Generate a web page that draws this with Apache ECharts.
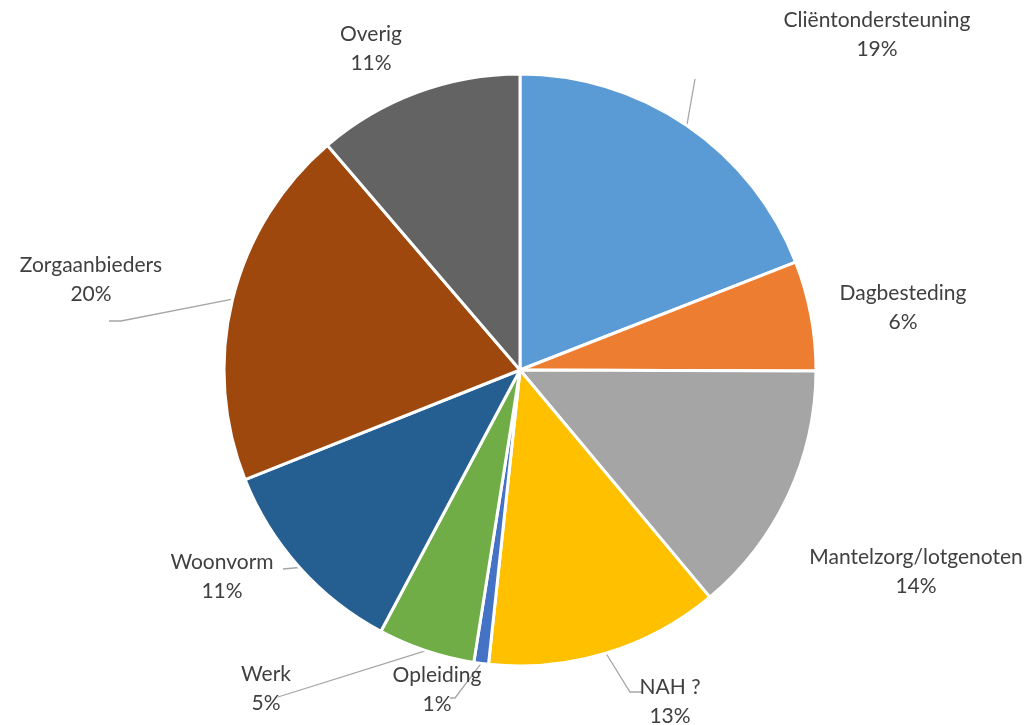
<!DOCTYPE html>
<html>
<head>
<meta charset="utf-8">
<script src="https://cdn.jsdelivr.net/npm/echarts@6/dist/echarts.min.js"></script>
<style>html,body{margin:0;padding:0;background:#fff}#c{width:1035px;height:725px}</style>
</head>
<body>
<div id="c"></div>
<script>
const categories = ['Cliëntondersteuning','Dagbesteding','Mantelzorg/lotgenoten','NAH ?','Opleiding','Werk','Woonvorm','Zorgaanbieders','Overig'];
const values = [19.1, 6.0, 13.9, 12.8, 0.8, 5.3, 11.2, 19.8, 11.3];
const percentLabels = ['19%','6%','14%','13%','1%','5%','11%','20%','11%'];
const colors = ['#5B9BD5','#ED7D31','#A5A5A5','#FFC000','#4472C4','#70AD47','#255E91','#9E480E','#636363'];
const showLine = [true,false,false,true,true,true,true,true,false];
// label block centres (layout only)
const labelPos = [[877,35],[903,308],[916,572],[670,702],[437,690],[266,689],[222,577],[91,280],[371,49]];
// connector bends/ends (layout only; start point comes from the pie)
const lineEnds = [[[695,79]],null,null,[[630,692],[642,692]],[[455,698],[450,698]],[[278,697]],[[283,569]],[[121,321],[109,321]],null];

const chart = echarts.init(document.getElementById('c'), null, {renderer:'canvas'});
chart.setOption({
  animation:false,
  series:[{
    type:'pie',
    center:[520,370],
    radius:[0,296],
    startAngle:90,
    clockwise:true,
    avoidLabelOverlap:false,
    itemStyle:{borderColor:'#fff',borderWidth:3},
    label:{
      show:true,
      position:'outside',
      fontFamily:'Lato, "Open Sans", sans-serif',
      fontSize:21,
      lineHeight:29,
      color:'#404040',
      align:'center',
      formatter:p=>p.name+'\n'+percentLabels[p.dataIndex]
    },
    labelLine:{show:true,length:15,length2:10,lineStyle:{color:'#A6A6A6',width:1.3}},
    labelLayout:function(p){
      const i = p.dataIndex;
      const pos = labelPos[i];
      const out = {x:pos[0], y:pos[1], align:'center', verticalAlign:'middle'};
      if (lineEnds[i] && p.labelLinePoints) {
        out.labelLinePoints = [p.labelLinePoints[0]].concat(lineEnds[i]);
      }
      return out;
    },
    data:categories.map((n,i)=>({name:n,value:values[i],itemStyle:{color:colors[i]},labelLine:{show:showLine[i]}}))
  }]
});
</script>
</body>
</html>
